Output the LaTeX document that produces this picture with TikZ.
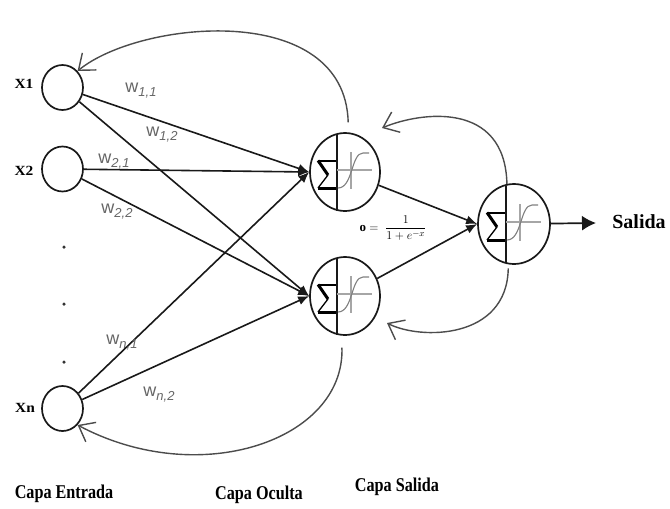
\documentclass[tikz,border=0pt]{standalone}
\usepackage{fontspec}
\setmainfont{Liberation Serif}
\newfontfamily\wfont{Liberation Sans}
\usetikzlibrary{shapes.geometric,arrows.meta}
\newcommand\wlab[1]{w\raisebox{-4pt}{\fontsize{13}{13}\selectfont\itshape #1}}
\begin{document}
\begin{tikzpicture}[x=1pt,y=-1pt,
 inp/.style={draw=black!90, line width=1.7pt, ellipse, minimum width=41pt, minimum height=45pt, inner sep=0},
 neu/.style={draw=black!90, line width=1.7pt, ellipse, minimum width=70pt, minimum height=78pt, inner sep=0},
 conn/.style={draw=black!90, line width=1.6pt, -{Latex[length=11pt,width=9pt]}},
 outarrow/.style={draw=black!90, line width=1.7pt, -{Latex[length=14pt,width=15pt]}},
 fb/.style={draw=black!70, line width=1.4pt, -{Straight Barb[length=14pt,width=22pt]}},
 wl/.style={text=black!60, font=\wfont\fontsize{18}{20}\selectfont, inner sep=0},
 lab/.style={font=\bfseries\fontsize{14}{16}\selectfont, inner sep=0},
 caplab/.style={font=\bfseries\fontsize{19.5}{21}\selectfont, inner sep=0},
 dotn/.style={circle, fill=black!80, inner sep=0, minimum size=3.5pt},
]
\fill[white] (0,0) rectangle (670,509);
\useasboundingbox (0,0) rectangle (670,509);

% input nodes
\node[inp] (x1) at (62.5,87.5) {};
\node[inp] (x2) at (62.5,169) {};
\node[inp] (xn) at (62.5,408.5) {};
\node[lab] (lx1) at (24,84) {\scalebox{1.1}[1]{X1}};
\node[lab] (lx2) at (24,171) {\scalebox{1.1}[1]{X2}};
\node[lab] (lxn) at (25,408) {\scalebox{1.1}[1]{Xn}};
\node[dotn] (d1) at (64,247) {};
\node[dotn] (d2) at (64,304) {};
\node[dotn] (d3) at (64,362) {};

% neurons
\node[neu] (h1) at (345,172) {};
\node[neu] (h2) at (345,296) {};
\node[neu, minimum width=72pt, minimum height=80pt] (o) at (514,224) {};

\foreach \n in {h1,h2,o}{
 \begin{scope}[shift={(\n.center)}]
   \draw[black!90, line width=1.6pt] (-8,-38.5) -- (-8,38.5);
   \draw[black!35, line width=1.1pt] (-8,-2) -- (27,-2);
   \draw[black!35, line width=1.1pt] (6,-20) -- (6,17);
   \draw[black!50, line width=1.1pt] (-7,16) .. controls (8,16) and (6,-19) .. (18,-19) -- (24,-19);
   \draw[black, line width=1.1pt] (-9,-11) -- (-27,-11);
   \draw[black, line width=3pt] (-27,-11.5) -- (-17,3);
   \draw[black, line width=1.3pt] (-17,3) -- (-27,16);
   \draw[black, line width=3pt] (-27.5,16) -- (-9,16);
 \end{scope}}

% connectors
\draw[conn] (x1) -- (h1.west);
\draw[conn] (x1) -- (h2.west);
\draw[conn] (x2) -- (h1.west);
\draw[conn] (x2) -- (h2.west);
\draw[conn] (xn) -- (h1.west);
\draw[conn] (xn) -- (h2.west);
\draw[conn] (h1) -- (o.west);
\draw[conn] (h2) -- (o.west);

\node[font=\bfseries\fontsize{20}{22}\selectfont, inner sep=0] (sal) at (639,222) {Salida};
\coordinate (sa) at (596,223);
\draw[outarrow] (o) -- (sa);

% feedback arcs
\coordinate (t2) at (382,128);
\coordinate (t3) at (387,323);
\draw[fb, shorten <=10pt] (h1.85) .. controls (345,0) and (140,20) .. (x1.north east);
\draw[fb] (o.100) .. controls (505,100) and (420,112) .. (t2);
\draw[fb, shorten <=4pt] (o.262) .. controls (507,340) and (420,340) .. (t3);
\draw[fb, shorten <=12pt] (h2.265) .. controls (345,440) and (200,490) .. (xn.south east);

% weights
\node[wl] (w11) at (141,91) {\wlab{1,1}};
\node[wl] (w12) at (162,135) {\wlab{1,2}};
\node[wl] (w21) at (114,162) {\wlab{2,1}};
\node[wl] (w22) at (117,212) {\wlab{2,2}};
\node[wl] (wn1) at (122,343) {\wlab{n,1}};
\node[wl] (wn2) at (159,395) {\wlab{n,2}};

% formula
\node[inner sep=0, font=\fontsize{13}{15}\selectfont] (form) at (393,228) {$\mathbf{o}=\;\displaystyle\frac{1}{1+e^{-x}}$};

% layer captions
\node[caplab] (c1) at (64,494) {\scalebox{0.83}[1]{Capa Entrada}};
\node[caplab] (c2) at (259,495) {\scalebox{0.83}[1]{Capa Oculta}};
\node[caplab] (c3) at (397,487) {\scalebox{0.83}[1]{Capa Salida}};
\end{tikzpicture}
\end{document}
